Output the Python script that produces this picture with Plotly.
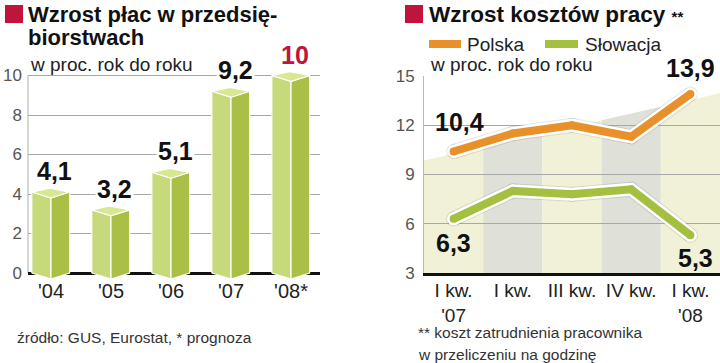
import plotly.graph_objects as go

# ---------------- data ----------------
years = ["'04", "'05", "'06", "'07", "'08*"]
wages = [4.1, 3.2, 5.1, 9.2, 10.0]
wage_labels = ["4,1", "3,2", "5,1", "9,2", "10"]

quarters = ["I kw.<br>'07", "I kw.", "III kw.", "IV kw.", "I kw.<br>'08"]
poland = [10.4, 11.5, 12.0, 11.3, 13.9]
slovakia = [6.3, 8.0, 7.8, 8.1, 5.3]
end_labels_pl = ["10,4", "13,9"]
end_labels_sk = ["6,3", "5,3"]

left_ticks = [0, 2, 4, 6, 8, 10]
right_ticks = [3, 6, 9, 12, 15]

# ---------------- style ----------------
W, H = 720, 363
FONT = "Liberation Sans, Arial, sans-serif"
RED = "#c0143c"
ORANGE = "#e8912a"
GREEN = "#a5c040"
FACE_L = "#c6da7b"
FACE_R = "#aabf45"
FACE_T = "#d8e792"
BAND_Y = "#f1f1d8"
BAND_G = "#dfe0d8"
GRID = "#a8a8a8"


def px_x(p):
    return p / W


def px_y(p):
    return 1 - p / H


fig = go.Figure()

# ---------------- left chart: 3D prism bars ----------------
xs = list(range(len(years)))
hl, hr, fx, bx = 0.32, 0.31, 0.0, -0.02   # half widths / front & back offsets
drop, rise = 0.3, 0.2                      # front drop, back rise (axis units)
lx, ly, rx, ry, tx, ty = [], [], [], [], [], []
for c, v in zip(xs, wages):
    L, R, F, B = c - hl, c + hr, c + fx, c + bx
    lx += [L, L, F, F, L, None]
    ly += [0, v, v - drop, -drop, 0, None]
    rx += [F, F, R, R, F, None]
    ry += [-drop, v - drop, v, 0, -drop, None]
    tx += [L, B, R, F, L, None]
    ty += [v, v + rise, v, v - drop, v, None]

for px_, py_, col in [(lx, ly, FACE_L), (rx, ry, FACE_R), (tx, ty, FACE_T)]:
    fig.add_trace(go.Scatter(x=px_, y=py_, fill="toself", fillcolor=col, mode="lines",
                             line=dict(color="white", width=1.2), xaxis="x", yaxis="y",
                             hoverinfo="skip", showlegend=False))

for c, v, t in zip(xs, wages, wage_labels):
    fig.add_annotation(x=c, y=v, xref="x", yref="y", text=t, showarrow=False,
                       xshift=4, yshift=21, bgcolor="white",
                       font=dict(family=FONT, size=25, color=RED if t == "10" else "#111",
                                 weight="bold"))

# ---------------- right chart: lines ----------------
qx = list(range(len(quarters)))
for ys, col in [(poland, ORANGE), (slovakia, GREEN)]:
    fig.add_trace(go.Scatter(x=qx, y=ys, mode="lines+markers",
                             line=dict(color="rgba(0,0,0,0.10)", width=15),
                             marker=dict(size=15, color="rgba(0,0,0,0.10)", line=dict(width=0)),
                             xaxis="x2", yaxis="y2", hoverinfo="skip", showlegend=False))
    fig.add_trace(go.Scatter(x=qx, y=ys, mode="lines+markers", line=dict(color="white", width=13),
                             marker=dict(size=13, color="white", line=dict(width=0)),
                             xaxis="x2", yaxis="y2", hoverinfo="skip", showlegend=False))
    fig.add_trace(go.Scatter(x=qx, y=ys, mode="lines+markers", line=dict(color=col, width=8),
                             marker=dict(size=8, color=col, line=dict(width=0)),
                             xaxis="x2", yaxis="y2", showlegend=False))

lab_font = dict(family=FONT, size=25, color="#111", weight="bold")
fig.add_annotation(x=qx[0], y=poland[0], xref="x2", yref="y2", text=end_labels_pl[0],
                   showarrow=False, xshift=6, yshift=30, font=lab_font)
fig.add_annotation(x=qx[-1], y=poland[-1], xref="x2", yref="y2", text=end_labels_pl[1],
                   showarrow=False, xshift=0, yshift=26, font=lab_font)
fig.add_annotation(x=qx[0], y=slovakia[0], xref="x2", yref="y2", text=end_labels_sk[0],
                   showarrow=False, xshift=0, yshift=-24, font=lab_font)
fig.add_annotation(x=qx[-1], y=slovakia[-1], xref="x2", yref="y2", text=end_labels_sk[1],
                   showarrow=False, xshift=5, yshift=-23, font=lab_font)

# background bands with a sloping top edge
top0, top1 = 9.85, 13.95
x0r, x1r = -0.5, 4.5


def top_at(x):
    return top0 + (top1 - top0) * (x - x0r) / (x1r - x0r)


shapes = []
for i in qx:
    a, b = i - 0.5, i + 0.5
    path = f"M {a},3 L {a},{top_at(a)} L {b},{top_at(b)} L {b},3 Z"
    shapes.append(dict(type="path", path=path, xref="x2", yref="y2", layer="below",
                       fillcolor=BAND_Y if i % 2 == 0 else BAND_G, line=dict(width=0)))

# left chart vertical axis line (0..10)
shapes.append(dict(type="line", xref="x domain", yref="y", x0=0, x1=0,
                   y0=left_ticks[0], y1=left_ticks[-1], layer="below",
                   line=dict(color="#b0b0b0", width=1)))

# red squares
for x0 in (5, 405):
    shapes.append(dict(type="rect", xref="paper", yref="paper", x0=px_x(x0), x1=px_x(x0 + 18),
                       y0=px_y(23), y1=px_y(5), fillcolor=RED, line=dict(width=0)))
# legend swatches
for (a, b), col in [((429, 461), ORANGE), ((545, 578), GREEN)]:
    shapes.append(dict(type="line", xref="paper", yref="paper", x0=px_x(a), x1=px_x(b),
                       y0=px_y(44), y1=px_y(44), line=dict(color=col, width=8)))

fig.update_layout(shapes=shapes)

# ---------------- texts ----------------
def txt(x, y, s, size, color="#222", bold=False, anchor="left"):
    fig.add_annotation(x=px_x(x), y=px_y(y), xref="paper", yref="paper", text=s,
                       showarrow=False, xanchor=anchor, yanchor="middle",
                       font=dict(family=FONT, size=size, color=color,
                                 weight="bold" if bold else "normal"))


txt(26, 15, "Wzrost płac w przedsię-", 22, "#111", True)
txt(26, 38, "biorstwach", 22, "#111", True)
txt(28, 64, "w proc. rok do roku", 19, "#222")
txt(427, 15, "Wzrost kosztów pracy <span style='font-size:15px'>**</span>", 22.5, "#111", True)
txt(465, 44, "Polska", 19, "#222")
txt(583, 44, "Słowacja", 19, "#222")
txt(428, 64, "w proc. rok do roku", 19, "#222")
txt(15, 337, "źródło: GUS, Eurostat, * prognoza", 15.5, "#333")
txt(416, 332, "** koszt zatrudnienia pracownika", 15.5, "#333")
txt(416, 354, "w przeliczeniu na godzinę", 15.5, "#333")

# ---------------- axes ----------------
tick_font = dict(family=FONT, size=17, color="#555")
fig.update_layout(
    width=W, height=H, margin=dict(l=0, r=0, t=0, b=0, autoexpand=False),
    paper_bgcolor="white", plot_bgcolor="rgba(0,0,0,0)",
    xaxis=dict(domain=[px_x(28), px_x(320)], range=[-0.383, 4.483], tickvals=xs, ticktext=years,
               showgrid=False, zeroline=False, showline=False, ticks="", automargin=False,
               ticklabelstandoff=-6,
               tickfont=dict(family=FONT, size=20, color="#222"), fixedrange=True),
    yaxis=dict(domain=[px_y(282.9), px_y(63.65)], range=[-0.5, 10.6], tickvals=left_ticks,
               showgrid=True, gridcolor=GRID, gridwidth=1, zeroline=True, zerolinecolor="#111",
               zerolinewidth=3, showline=False, ticks="", ticklabelstandoff=5, automargin=False,
               tickfont=tick_font, fixedrange=True),
    xaxis2=dict(domain=[px_x(424), 1.0], range=[-0.5, 4.5], tickvals=qx, ticktext=quarters,
                anchor="y2", showgrid=False, zeroline=False, showline=True, linecolor="#111",
                linewidth=3, ticks="", automargin=False, ticklabelstandoff=-2,
                tickfont=dict(family=FONT, size=19, color="#222"), fixedrange=True),
    yaxis2=dict(domain=[px_y(273), px_y(76)], range=[3, 15], tickvals=right_ticks, anchor="x2",
                showgrid=True, gridcolor=GRID, gridwidth=1, zeroline=False, showline=True,
                linecolor="#bbbbbb", linewidth=1, ticks="", ticklabelstandoff=5, automargin=False,
                tickfont=tick_font, fixedrange=True),
)

fig.write_html("out.html", config={"displayModeBar": False},
               post_script="document.body.style.margin='0';document.body.style.overflow='hidden';")
